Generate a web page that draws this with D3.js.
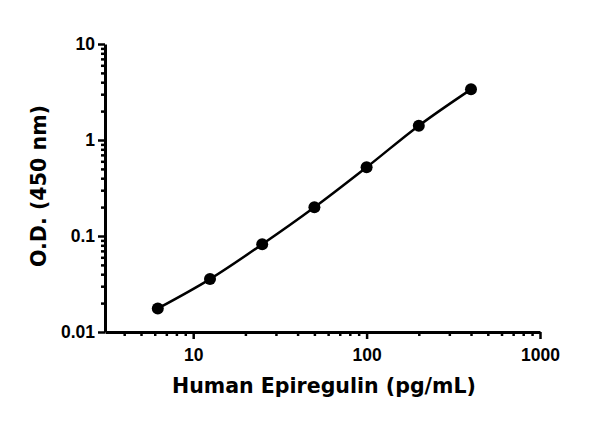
<!DOCTYPE html>
<html>
<head>
<meta charset="utf-8">
<script src="https://cdn.jsdelivr.net/npm/d3@7"></script>
<style>
  body { margin: 0; background: #fff; }
  .tick text { font-family: "Liberation Sans", Arial, sans-serif; font-weight: bold; font-size: 17.5px; fill: #000; }
</style>
</head>
<body>
<div id="figure"></div>
<script>
const width = 600,
      height = 421;

// Standard curve data (pg/mL vs O.D.)
const conc = [6.25, 12.5, 25, 50, 100, 200, 400];
const od = [0.0176, 0.0356, 0.0819, 0.199, 0.520, 1.41, 3.37];

const xMajor = [10, 100, 1000];
const xMinor = [4, 5, 6, 7, 8, 9, 20, 30, 40, 50, 60, 70, 80, 90,
                200, 300, 400, 500, 600, 700, 800, 900];
const yMajor = [0.01, 0.1, 1, 10];
const yMinor = [0.02, 0.03, 0.04, 0.05, 0.06, 0.07, 0.08, 0.09,
                0.2, 0.3, 0.4, 0.5, 0.6, 0.7, 0.8, 0.9,
                2, 3, 4, 5, 6, 7, 8, 9];

const svg = d3.select("#figure").append("svg")
    .attr("width", width)
    .attr("height", height);

const x = d3.scaleLog()
    .domain([3.1, 1000])
    .range([105, 540]);

const y = d3.scaleLog()
    .domain([0.01, 10])
    .range([332, 44]);

const fmt = d => String(d);

// X axis: minor then major ticks
svg.append("g")
    .attr("transform", `translate(0,${y.range()[0]})`)
    .call(d3.axisBottom(x).tickValues(xMinor).tickSize(4).tickFormat(""))
    .call(g => g.select(".domain").remove())
    .call(g => g.selectAll("line").attr("stroke", "#000").attr("stroke-width", 2.5));

svg.append("g")
    .attr("transform", `translate(0,${y.range()[0]})`)
    .call(d3.axisBottom(x).tickValues(xMajor).tickSize(7).tickSizeOuter(0).tickPadding(10).tickFormat(fmt))
    .call(g => g.select(".domain").attr("stroke", "#000").attr("stroke-width", 3))
    .call(g => g.selectAll("line").attr("stroke", "#000").attr("stroke-width", 2.5));

// Y axis
svg.append("g")
    .attr("transform", `translate(${x.range()[0]},0)`)
    .call(d3.axisLeft(y).tickValues(yMinor).tickSize(4).tickFormat(""))
    .call(g => g.select(".domain").remove())
    .call(g => g.selectAll("line").attr("stroke", "#000").attr("stroke-width", 2.5));

svg.append("g")
    .attr("transform", `translate(${x.range()[0]},0)`)
    .call(d3.axisLeft(y).tickValues(yMajor).tickSize(7).tickSizeOuter(0).tickPadding(3).tickFormat(fmt))
    .call(g => g.select(".domain").attr("stroke", "#000").attr("stroke-width", 3))
    .call(g => g.selectAll("line").attr("stroke", "#000").attr("stroke-width", 2.5));

// Fitted curve
const pts = conc.map((c, i) => [c, od[i]]);
svg.append("path")
    .datum(pts)
    .attr("fill", "none")
    .attr("stroke", "#000")
    .attr("stroke-width", 2.5)
    .attr("d", d3.line()
        .x(d => x(d[0]))
        .y(d => y(d[1]))
        .curve(d3.curveMonotoneX));

// Points
svg.append("g")
    .selectAll("circle")
    .data(pts)
    .join("circle")
        .attr("cx", d => x(d[0]))
        .attr("cy", d => y(d[1]))
        .attr("r", 6)
        .attr("fill", "#000");

// Axis titles
svg.append("text")
    .attr("x", 324)
    .attr("y", 393)
    .attr("text-anchor", "middle")
    .attr("font-family", "'DejaVu Sans', sans-serif")
    .attr("font-weight", "bold")
    .attr("font-size", 21)
    .attr("textLength", 304)
    .attr("lengthAdjust", "spacingAndGlyphs")
    .text("Human Epiregulin (pg/mL)");

svg.append("text")
    .attr("transform", "translate(46,186) rotate(-90)")
    .attr("text-anchor", "middle")
    .attr("font-family", "'DejaVu Sans', sans-serif")
    .attr("font-weight", "bold")
    .attr("font-size", 21)
    .attr("textLength", 162)
    .attr("lengthAdjust", "spacingAndGlyphs")
    .text("O.D. (450 nm)");
</script>
</body>
</html>
